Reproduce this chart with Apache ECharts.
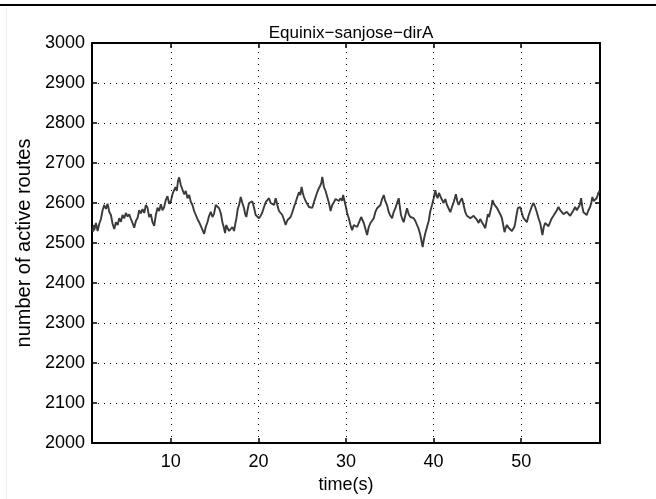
<!DOCTYPE html>
<html><head><meta charset="utf-8">
<script src="https://cdn.jsdelivr.net/npm/echarts@6/dist/echarts.min.js"></script>
<style>html,body{margin:0;padding:0;background:#fff}#c{width:656px;height:499px}</style>
</head><body><div id="c"></div>
<script>
const titleText = "Equinix\u2212sanjose\u2212dirA";
const xName = "time(s)";
const yName = "number of active routes";
const xTicks = [10, 20, 30, 40, 50];
const yTicks = [2000, 2100, 2200, 2300, 2400, 2500, 2600, 2700, 2800, 2900, 3000];
const times = [
1.10,1.18,1.26,1.45,1.64,1.83,2.02,2.21,2.40,2.59,2.78,2.97,3.16,3.35,3.54,3.73,3.93,4.11,4.30,4.49,
4.68,4.87,5.07,5.25,5.44,5.63,5.82,6.01,6.21,6.39,6.58,6.77,6.96,7.15,7.34,7.53,7.72,7.91,8.10,8.29,
8.48,8.67,8.86,9.05,9.24,9.43,9.62,9.81,10.00,10.19,10.38,10.53,10.68,10.82,10.95,11.14,11.33,11.52,11.71,11.90,
12.09,12.28,12.47,12.66,12.85,13.04,13.23,13.52,13.80,13.99,14.18,14.37,14.56,14.75,14.93,15.13,15.32,15.51,15.70,15.89,
16.04,16.19,16.33,16.46,16.65,16.84,17.03,17.22,17.36,17.49,17.64,17.79,17.89,17.98,18.17,18.36,18.49,18.62,18.78,18.93,
19.12,19.31,19.50,19.69,19.88,20.07,20.26,20.45,20.64,20.83,21.02,21.21,21.40,21.59,21.78,21.97,22.16,22.35,22.54,22.73,
22.92,23.11,23.30,23.49,23.68,23.87,24.06,24.25,24.44,24.63,24.78,24.93,25.07,25.20,25.39,25.58,25.77,25.96,26.15,26.34,
26.53,26.72,26.91,27.10,27.20,27.29,27.48,27.67,27.86,28.05,28.15,28.24,28.43,28.62,28.81,29.00,29.19,29.38,29.57,29.67,
29.76,29.94,30.13,30.32,30.51,30.70,30.89,31.08,31.27,31.46,31.60,31.73,31.88,32.03,32.22,32.41,32.60,32.79,32.98,33.17,
33.36,33.55,33.74,33.93,34.12,34.31,34.44,34.57,34.72,34.88,35.07,35.26,35.45,35.64,35.83,36.02,36.15,36.28,36.43,36.59,
36.78,36.97,37.16,37.35,37.54,37.73,37.92,38.11,38.30,38.49,38.62,38.75,38.90,39.06,39.25,39.44,39.63,39.82,40.01,40.20,
40.33,40.46,40.61,40.77,40.96,41.15,41.34,41.53,41.72,41.91,42.10,42.29,42.42,42.55,42.70,42.86,43.05,43.24,43.43,43.62,
43.81,44.00,44.19,44.38,44.57,44.76,44.95,45.14,45.33,45.52,45.71,45.90,46.05,46.20,46.33,46.47,46.60,46.73,46.88,47.04,
47.23,47.42,47.61,47.80,47.95,48.10,48.23,48.37,48.56,48.75,48.94,49.13,49.22,49.32,49.47,49.62,49.75,49.89,50.08,50.27,
50.46,50.65,50.84,51.03,51.22,51.41,51.60,51.79,51.98,52.17,52.30,52.43,52.58,52.74,52.93,53.12,53.31,53.50,53.69,53.88,
54.07,54.26,54.45,54.64,54.83,55.02,55.21,55.40,55.59,55.78,55.97,56.16,56.35,56.54,56.69,56.84,56.97,57.11,57.30,57.49,
57.68,57.87,58.00,58.13,58.28,58.43,58.62,58.81,58.95
];
const routes = [
2528,2545,2532,2550,2530,2548,2560,2582,2595,2585,2598,2578,2570,2548,2535,2552,2545,2562,2553,2570,
2562,2575,2566,2572,2560,2550,2538,2555,2563,2582,2574,2585,2575,2595,2588,2565,2572,2552,2543,2570,
2588,2580,2597,2582,2590,2608,2617,2598,2604,2622,2625,2640,2630,2655,2664,2645,2640,2622,2630,2612,
2620,2603,2595,2580,2570,2560,2552,2538,2523,2540,2552,2568,2578,2565,2573,2595,2590,2587,2575,2552,
2540,2525,2545,2538,2530,2534,2540,2530,2548,2562,2585,2595,2605,2615,2600,2587,2572,2565,2585,2600,
2595,2604,2588,2570,2575,2562,2568,2577,2590,2602,2597,2612,2600,2604,2595,2612,2595,2580,2583,2570,
2558,2545,2557,2552,2565,2577,2590,2602,2615,2627,2620,2640,2625,2615,2605,2602,2590,2595,2588,2602,
2615,2627,2637,2645,2652,2665,2640,2630,2615,2600,2590,2580,2595,2602,2610,2615,2605,2612,2606,2620,
2618,2595,2575,2562,2545,2532,2545,2550,2540,2545,2558,2565,2560,2550,2535,2520,2540,2550,2555,2562,
2578,2587,2582,2595,2610,2620,2608,2612,2592,2577,2568,2562,2578,2587,2600,2612,2590,2570,2560,2552,
2570,2587,2572,2565,2570,2562,2555,2545,2535,2520,2505,2490,2510,2525,2540,2555,2580,2595,2612,2632,
2618,2612,2625,2620,2608,2600,2610,2595,2590,2577,2590,2602,2612,2622,2605,2595,2605,2612,2595,2577,
2568,2565,2562,2560,2568,2570,2558,2550,2560,2552,2545,2537,2555,2572,2565,2570,2590,2607,2598,2595,
2588,2580,2572,2562,2545,2527,2538,2545,2538,2537,2530,2527,2540,2550,2570,2587,2582,2590,2575,2562,
2558,2552,2568,2580,2592,2600,2590,2577,2562,2550,2535,2520,2540,2550,2545,2542,2552,2562,2568,2572,
2582,2590,2582,2577,2572,2570,2578,2577,2568,2572,2582,2590,2582,2577,2595,2612,2592,2577,2572,2570,
2582,2590,2600,2615,2605,2600,2612,2625,2630
];

const FONT = '"Liberation Sans", Arial, sans-serif';
const chart = echarts.init(document.getElementById('c'), null, {renderer: 'canvas'});
const axisLine = {show: true, lineStyle: {color: '#000', width: 2}};
const gridLine = {show: true, lineStyle: {color: '#000', width: 1, type: [1, 5]}};
const tick = {show: true, inside: true, length: 5, lineStyle: {color: '#000', width: 1.5}};
chart.setOption({
  animation: false,
  backgroundColor: '#fff',
  title: {text: titleText, left: 346, top: 20, textAlign: 'center',
    textStyle: {fontFamily: FONT, fontSize: 17, fontWeight: 'normal', color: '#000'}},
  grid: {left: 92, right: 56, top: 43, bottom: 56},
  xAxis: [
    {type: 'value', min: 1, max: 59, position: 'bottom',
     name: xName, nameLocation: 'middle', nameGap: 33,
     nameTextStyle: {fontFamily: FONT, fontSize: 18, color: '#000'},
     axisLine: axisLine,
     axisTick: Object.assign({}, tick, {customValues: xTicks}),
     axisLabel: {customValues: xTicks, margin: 10, fontFamily: FONT, fontSize: 18, color: '#000'},
     splitLine: {show: false}},
    {type: 'value', min: 1, max: 59, position: 'top',
     axisLine: axisLine,
     axisTick: Object.assign({}, tick, {customValues: xTicks}),
     axisLabel: {show: false}, splitLine: {show: false}}
  ],
  yAxis: [
    {type: 'value', min: 2000, max: 3000, interval: 100, position: 'left',
     name: yName, nameLocation: 'middle', nameGap: 58,
     nameTextStyle: {fontFamily: FONT, fontSize: 20, color: '#000'},
     axisLine: axisLine, axisTick: tick,
     axisLabel: {margin: 7, fontFamily: FONT, fontSize: 18, color: '#000',
       formatter: v => String(v)},
     splitLine: gridLine},
    {type: 'value', min: 2000, max: 3000, interval: 100, position: 'right',
     axisLine: axisLine, axisTick: tick,
     axisLabel: {show: false}, splitLine: {show: false}}
  ],
  graphic: [
    {type: 'line', shape: {x1: 0, y1: 5, x2: 656, y2: 5}, style: {stroke: '#000', lineWidth: 2}},
    {type: 'line', shape: {x1: 6.5, y1: 8, x2: 6.5, y2: 499}, style: {stroke: '#ececec', lineWidth: 1}}
  ],
  series: [
    {type: 'line', xAxisIndex: 0, yAxisIndex: 0, showSymbol: false, silent: true,
     lineStyle: {color: '#3a3a3a', width: 1.9},
     data: times.map((t, i) => [t, routes[i]]),
     markLine: {silent: true, symbol: 'none', label: {show: false},
       lineStyle: {color: '#000', width: 1, type: [1, 5]},
       data: xTicks.map(v => ({xAxis: v}))}}
  ]
});
</script></body></html>
